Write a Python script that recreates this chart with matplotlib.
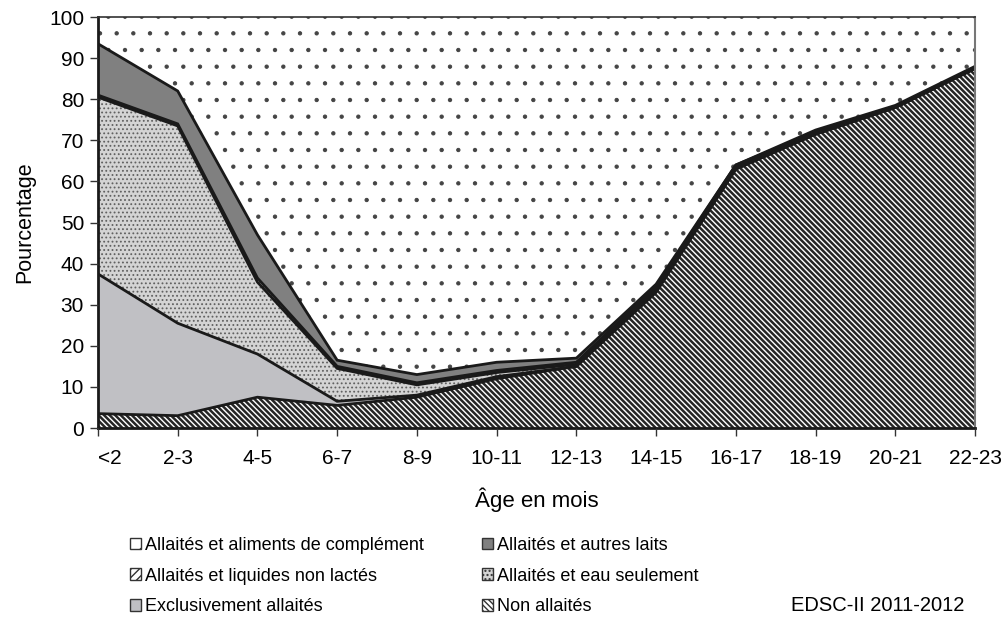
import matplotlib
matplotlib.use("Agg")
import matplotlib.pyplot as plt
from matplotlib.patches import Patch
import numpy as np

plt.rcParams['font.family'] = ['Liberation Sans', 'DejaVu Sans']

# categories (age in months)
ages = ['<2', '2-3', '4-5', '6-7', '8-9', '10-11', '12-13', '14-15', '16-17', '18-19', '20-21', '22-23']

# percentages per group, bottom to top
non_allaites = [3.5, 3.0, 7.5, 5.5, 7.5, 12.0, 15.0, 33.0, 63.0, 71.5, 78.0, 87.5]
exclusivement = [34.0, 22.5, 10.5, 1.0, 0.5, 0.5, 0.0, 0.5, 0.0, 0.0, 0.0, 0.0]
eau_seulement = [43.0, 48.0, 17.5, 8.0, 2.5, 1.0, 0.5, 0.5, 0.5, 0.0, 0.0, 0.0]
liquides = [0.5, 0.5, 1.0, 0.5, 0.5, 0.5, 0.5, 0.5, 0.5, 0.5, 0.0, 0.0]
autres_laits = [12.5, 8.0, 10.5, 1.5, 2.0, 2.0, 1.0, 0.5, 0.0, 0.5, 0.5, 0.5]
complement = [6.5, 18.0, 53.0, 83.5, 87.0, 84.0, 83.0, 65.0, 36.0, 27.5, 21.5, 12.0]

series = [non_allaites, exclusivement, eau_seulement, liquides, autres_laits, complement]
labels = ['Non allaités', 'Exclusivement allaités', 'Allaités et eau seulement',
          'Allaités et liquides non lactés', 'Allaités et autres laits',
          'Allaités et aliments de complément']
faces = ['white', '#c0c0c4', '#d4d4d4', 'white', '#808080', 'white']
hatches = ['\\\\\\\\\\\\', None, '....', '////', None, '.']
hatch_col = ['#262626', 'none', '#606060', '#555555', 'none', '#444444']
hatch_lw = [1.8, 1.0, 0.8, 0.8, 1.0, 0.7]

fig = plt.figure(figsize=(10.06, 6.17), dpi=100)
ax = fig.add_axes([0.0974, 0.3063, 0.8718, 0.6661])

x = np.arange(len(ages))
tops = np.cumsum(np.array(series), axis=0)
bottom = np.zeros(len(ages))
for i in range(len(series)):
    with plt.rc_context({'hatch.linewidth': hatch_lw[i]}):
        ax.fill_between(x, bottom, tops[i], facecolor=faces[i], hatch=hatches[i],
                        edgecolor=hatch_col[i], linewidth=0)
    bottom = tops[i]
for i in range(len(series) - 1):
    ax.plot(x, tops[i], color='#1a1a1a', lw=2, solid_joinstyle='miter')

ax.set_xlim(0, len(ages) - 1)
ax.set_ylim(0, 100)
ax.set_yticks(range(0, 101, 10))
ax.set_xticks(x)
ax.set_xticklabels(ages)
ax.get_xticklabels()[0].set_ha('left')
ax.tick_params(labelsize=15, length=6, width=1, direction='out', color='#333333')
ax.tick_params(axis='x', pad=9)
ax.tick_params(axis='y', pad=4)
for s in ['left', 'bottom']:
    ax.spines[s].set_linewidth(2)
    ax.spines[s].set_color('#1a1a1a')
ax.spines['top'].set_linewidth(1.2)
ax.spines['top'].set_color('#333333')
ax.spines['right'].set_linewidth(1.5)
ax.spines['right'].set_color('#777777')
ax.set_axisbelow(False)

ax.set_ylabel('Pourcentage', fontsize=15.5, labelpad=10)
ax.set_xlabel('Âge en mois', fontsize=16, labelpad=14)

# legend: two columns, filled column-wise
order = [5, 3, 1, 4, 2, 0]
handles = [Patch(facecolor=faces[i], hatch=hatches[i], edgecolor='#333333',
                 linewidth=1, label=labels[i]) for i in order]
fig.legend(handles=handles, loc='upper left', bbox_to_anchor=(0.129, 0.13),
           ncol=2, frameon=False, fontsize=13,
           handlelength=0.6, handleheight=0.6, handletextpad=0.25,
           columnspacing=3.2, labelspacing=0.76, borderaxespad=0, borderpad=0)

fig.text(0.786, 0.018, 'EDSC-II 2011-2012', fontsize=14.5, va='center')

fig.savefig('out.png', dpi=100)
